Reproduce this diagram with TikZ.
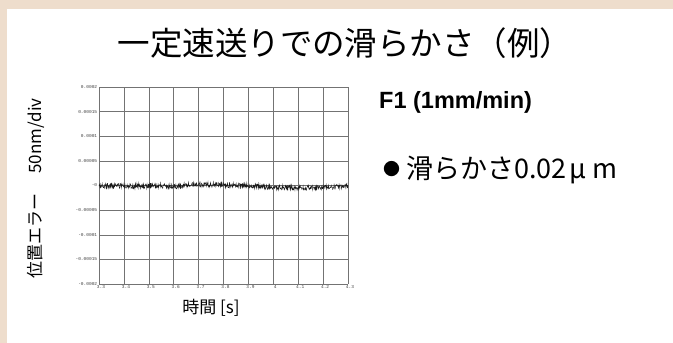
\documentclass[tikz,border=0pt]{standalone}
\usepackage{fontspec}
\setmainfont{Liberation Sans}
\newfontfamily\jp{Noto Sans CJK JP}
\newfontfamily\tickfont{Liberation Mono}
\definecolor{framebeige}{RGB}{238,221,204}

\begin{document}
\begin{tikzpicture}[x=1pt, y=-1pt, every node/.style={inner sep=0pt}]
		\tikzstyle{gridline} = [black!55, line width=0.5pt]
		\tikzstyle{ticklabel} = [font=\tickfont\fontsize{4.5}{5}\selectfont, text=black!75, inner sep=0.6pt]
		\tikzstyle{signal} = [black!90, line width=0.45pt]
		
		% frame
		\useasboundingbox (0,0) rectangle (673,343);
		\fill[framebeige] (0,0) rectangle (673,343);
		\fill[white] (7,9) rectangle (673,343);
		
		\node (title) at (345,43) {\jp\fontsize{32.5}{36}\selectfont 一定速送りでの滑らかさ（例）};
		
		% grid
		\foreach \i in {0,...,10}
			\draw[gridline] ({99+24.9*\i},87) -- ({99+24.9*\i},284);
		\foreach \j in {0,...,8}
			\draw[gridline] (99,{87+24.625*\j}) -- (348,{87+24.625*\j});
		
		\foreach \lab [count=\j from 0] in {0.0002,0.00015,0.0001,0.00005,-0,-0.00005,-0.0001,-0.00015,-0.0002}
			\node[ticklabel, anchor=east] (yt\j) at (98,{87+24.625*\j}) {\lab};
		\foreach \lab [count=\i from 0] in {3.3,3.4,3.5,3.6,3.7,3.8,3.9,4,4.1,4.2,4.3}
			\node[ticklabel, anchor=north] (xt\i) at ({99+24.9*\i+2},285) {\lab};
		
		% position error trace
		\pgfmathsetseed{7}
		\draw[signal] plot[domain=0:249, samples=700, variable=\t]
			({99+\t}, {186 + 0.9*sin(2.3*\t) - 1.0*sin(1.1*\t+30) + 1.5*exp(-((\t-76)/8)^2) + 2.6*rand});
		
		\node[rotate=90] (ylabel) at (36,188.5) {\jp\fontsize{17}{19}\selectfont 位置エラー\hspace{20pt}50nm/div};
		\node (xlabel) at (211,308) {\jp\fontsize{17}{19}\selectfont 時間 [s]};
		
		\node[anchor=west] (feed) at (379,102) {\bfseries\fontsize{23.5}{26}\selectfont F1 (1mm/min)};
		\node[anchor=west] (smooth) at (383,170) {\jp\fontsize{27}{30}\selectfont \raisebox{3pt}{\fontsize{17}{17}\selectfont ●}\hspace{6pt}滑らかさ0.02\hspace{3pt}μ\hspace{6pt}m};
	\end{tikzpicture}
\end{document}
